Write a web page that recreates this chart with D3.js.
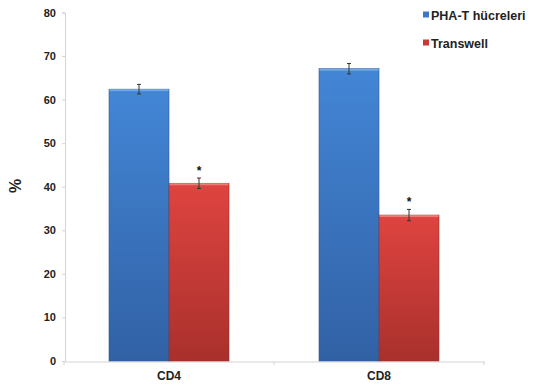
<!DOCTYPE html>
<html><head><meta charset="utf-8">
<script src="https://cdn.jsdelivr.net/npm/d3@7"></script>
<style>body{margin:0;background:#fff}text{font-family:"Liberation Sans",Arial,sans-serif;font-weight:bold}</style>
</head><body><svg id="c" width="533" height="387"></svg>
<script>
const categories = ["CD4", "CD8"];
const seriesNames = ["PHA-T hücreleri", "Transwell"];
const phaValues = [62.4, 67.1];
const phaErrors = [1.1, 1.2];
const transwellValues = [40.8, 33.5];
const transwellErrors = [1.2, 1.3];
const significant = [true, true];
const yTicks = [0, 10, 20, 30, 40, 50, 60, 70, 80];

const svg = d3.select("#c");
const defs = svg.append("defs");
const grads = [["gBlue", "#4386d6", "#3161a5"], ["gRed", "#df4440", "#a9302c"]];
grads.forEach(([id, c1, c2]) => {
  const g = defs.append("linearGradient").attr("id", id).attr("x1", 0).attr("x2", 0).attr("y1", 0).attr("y2", 1);
  g.append("stop").attr("offset", "0%").attr("stop-color", c1);
  g.append("stop").attr("offset", "100%").attr("stop-color", c2);
});
const fills = ["url(#gBlue)", "url(#gRed)"];
const legendColors = ["#3d78c8", "#c93a36"];

const x = d3.scaleBand().domain(categories).range([64, 484]).paddingInner(0).paddingOuter(0);
const inner = d3.scaleBand().domain(seriesNames).range([0, x.bandwidth()]).paddingOuter(0.75).paddingInner(0);
const y = d3.scaleLinear().domain([0, 80]).range([361, 12.5]);

// axes
const yAxis = svg.append("g").attr("transform", "translate(65,0)")
  .call(d3.axisLeft(y).tickValues(yTicks).tickSize(3).tickPadding(6));
yAxis.select(".domain").attr("stroke", "#d4d4d4");
yAxis.selectAll(".tick line").attr("stroke", "#d4d4d4");
yAxis.selectAll("text").attr("font-size", 11).attr("fill", "#222").style("font-family", "Liberation Sans, Arial, sans-serif").style("font-weight", "bold");

const xAxis = svg.append("g").attr("transform", "translate(0,361.5)")
  .call(d3.axisBottom(x).tickSize(0).tickPadding(10));
xAxis.select(".domain").attr("stroke", "#d4d4d4");
xAxis.selectAll("text").attr("font-size", 12).attr("fill", "#222").style("font-family", "Liberation Sans, Arial, sans-serif").style("font-weight", "bold");
[64, x("CD8"), 484].forEach(v => svg.append("line").attr("x1", v).attr("x2", v).attr("y1", 361.5).attr("y2", 365).attr("stroke", "#d4d4d4"));

const data = [];
categories.forEach((c, i) => {
  data.push({cat: c, s: 0, v: phaValues[i], e: phaErrors[i], sig: false});
  data.push({cat: c, s: 1, v: transwellValues[i], e: transwellErrors[i], sig: significant[i]});
});

const bars = svg.append("g");
data.forEach(d => {
  const bx = x(d.cat) + inner(seriesNames[d.s]);
  const bw = inner.bandwidth();
  bars.append("rect").attr("x", bx).attr("y", y(d.v)).attr("width", bw).attr("height", y(0) - y(d.v))
    .attr("fill", fills[d.s]).attr("stroke", d.s === 0 ? "#2f5c98" : "#9c2d2a").attr("stroke-width", 0.6);
  bars.append("rect").attr("x", bx + 0.5).attr("y", y(d.v)).attr("width", bw - 1).attr("height", 2)
    .attr("fill", d.s === 0 ? "#7fb0ea" : "#f08a86").attr("opacity", 0.8);
  const cx = bx + bw / 2;
  const g = bars.append("g").attr("stroke", "#333").attr("stroke-width", 1);
  g.append("line").attr("x1", cx).attr("x2", cx).attr("y1", y(d.v + d.e)).attr("y2", y(d.v - d.e));
  g.append("line").attr("x1", cx - 2).attr("x2", cx + 2).attr("y1", y(d.v + d.e)).attr("y2", y(d.v + d.e));
  g.append("line").attr("x1", cx - 2).attr("x2", cx + 2).attr("y1", y(d.v - d.e)).attr("y2", y(d.v - d.e));
  if (d.sig) {
    bars.append("text").attr("x", cx).attr("y", y(d.v + d.e) - 3).attr("text-anchor", "middle")
      .attr("font-size", 12).attr("fill", "#111").text("*");
  }
});

svg.append("text").attr("transform", "translate(21,186) rotate(-90)").attr("text-anchor", "middle")
  .attr("font-size", 16).attr("fill", "#222").text("%");

const leg = svg.append("g");
seriesNames.forEach((n, i) => {
  const ly = 15 + i * 28;
  leg.append("rect").attr("x", 423).attr("y", ly - 3.5).attr("width", 6).attr("height", 6).attr("fill", legendColors[i]);
  leg.append("text").attr("x", 431).attr("y", ly + 4.5).attr("font-size", 12.5).attr("fill", "#222").text(n);
});
</script></body></html>
